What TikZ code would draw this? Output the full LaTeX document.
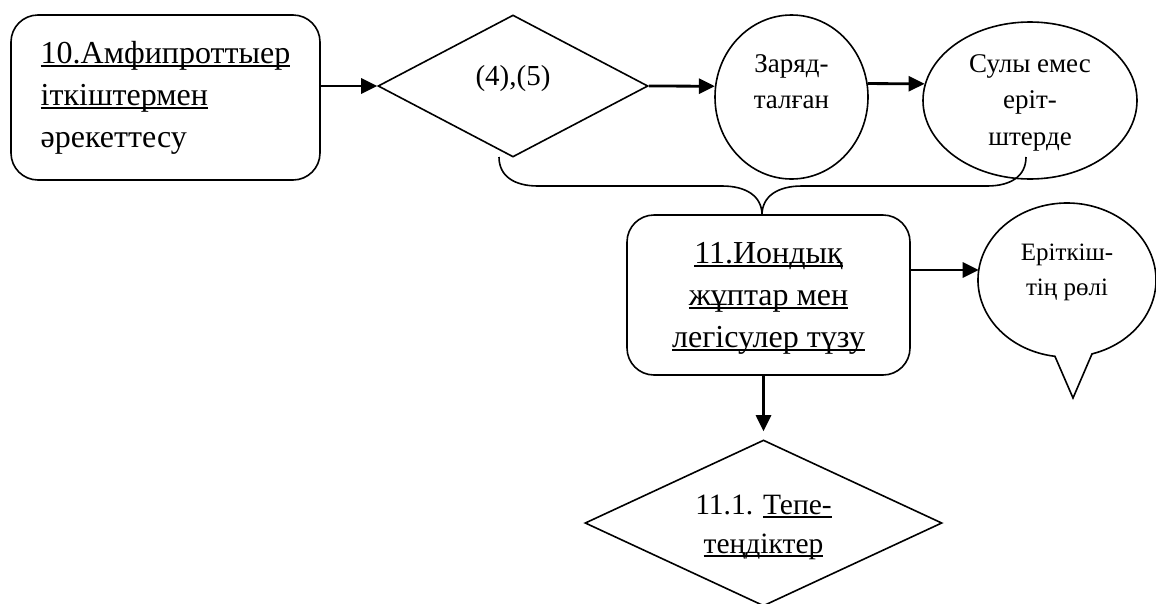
\documentclass[tikz,border=0pt]{standalone}
\usepackage{fontspec}
\setmainfont{Liberation Serif}
\usetikzlibrary{arrows.meta,shapes.geometric}
\newsavebox\ulbox
\newcommand\myul[1]{\sbox\ulbox{#1}\rlap{\rule[-4pt]{\wd\ulbox}{1.6pt}}\usebox\ulbox}
\newcommand\tx[3]{\raisebox{#1}[0pt][0pt]{\begin{tabular}[t]{@{}#2@{}}#3\end{tabular}}}
\tikzset{
  shp/.style={draw=black, line width=1.6pt, fill=white, inner sep=0pt},
  rbox/.style={shp, rectangle, rounded corners=27pt},
  dia/.style={shp, diamond},
  ell/.style={shp, ellipse},
  arr/.style={draw=black, line width=2.8pt, -{Triangle[length=16pt,width=15pt]}},
  big/.style={font=\fontsize{32}{42}\selectfont},
  mid/.style={font=\fontsize{27}{36.5}\selectfont},
}
\begin{document}
\begin{tikzpicture}[x=1pt,y=-1pt]
\useasboundingbox (0,0) rectangle (1156,603);
% boxes
\node[rbox, big, minimum width=309pt, minimum height=165pt] (b1) at (165.5,97.5)
  {\tx{34.5pt}{l}{\myul{10.Амфипроттыер}\\ \myul{іткіштермен}\\ әрекеттесу}};
\node[dia, font=\fontsize{29}{42}\selectfont, minimum width=270pt, minimum height=142pt] (d1) at (513,86)
  {\tx{1pt}{c}{(4),(5)}};
\node[ell, mid, minimum width=153pt, minimum height=164pt] (c1) at (791.5,97)
  {\tx{25pt}{c}{Заряд-\\талған}};
\node[ell, mid, minimum width=214pt, minimum height=157pt] (c2) at (1030,100.5)
  {\tx{28.5pt}{c}{Сулы емес\\еріт-\\штерде}};
\node[rbox, big, minimum width=283pt, minimum height=160pt] (b2) at (768.5,295)
  {\tx{32pt}{c}{\myul{11.Иондық}\\ \myul{жұптар мен}\\ \myul{легісулер түзу}}};
\node[dia, font=\fontsize{29.5}{39}\selectfont, minimum width=357pt, minimum height=166pt] (d2) at (763.5,523)
  {\tx{9pt}{c}{11.1. \myul{Тепе-}\\ \myul{теңдіктер}}};
% speech bubble
\coordinate (bc) at (1067,280);
\coordinate (tip) at (1073,398);
\draw[line width=1.6pt, fill=white] ([shift={(24.98,73.9)}]bc)
  arc[start angle=-73.7, end angle=262.2, x radius=89pt, y radius=77pt] -- (tip) -- cycle;
\node[inner sep=0pt, font=\fontsize{25}{35}\selectfont] (bub) at (bc)
  {\tx{20pt}{c}{Еріткіш-\\тің рөлі}};
\coordinate (bin) at (978.7,270);
% brace
\coordinate (brL) at (499,157);
\coordinate (brR) at (1026,157);
\coordinate (brT) at (762,215);
\draw[line width=1.6pt] (brL) .. controls (499,176) and (514,186) .. (538,186) -- (722,186)
  .. controls (746,186) and (762,196) .. (brT)
  .. controls (762,196) and (778,186) .. (802,186) -- (987,186)
  .. controls (1011,186) and (1026,176) .. (brR);
% connectors
\draw[arr] (b1.east |- d1.west) -- (d1.west);
\draw[arr] (d1.east) -- (c1.172);
\draw[arr] (c1.10) -- (c2.171);
\draw[arr] (b2.east |- bin) -- (bin);
\draw[arr, shorten >=8pt] (b2.south -| d2.north) -- (d2.north);
\end{tikzpicture}
\end{document}
